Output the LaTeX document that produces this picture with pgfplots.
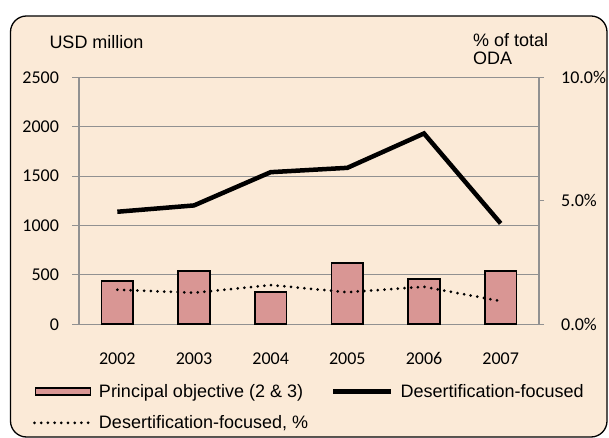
\documentclass[border=0pt]{standalone}
\usepackage{pgfplots}
\pgfplotsset{compat=1.18}
\usepackage{fontspec}
\setmainfont{Liberation Sans}
\newfontfamily\tickfont{Carlito}
\definecolor{bgc}{RGB}{251,234,215}
\definecolor{barc}{RGB}{217,150,148}
\definecolor{gridc}{RGB}{145,145,145}
\newcommand{\txtsize}{\fontsize{18bp}{21bp}\selectfont}
\pgfplotsset{
  barlegend/.style={legend image code/.code={\draw[##1,/tikz/.cd] (2bp,-3.5bp) rectangle (57bp,3.5bp);}},
  linelegend/.style={legend image code/.code={\draw[##1] (0bp,0bp) -- (58bp,0bp);}},
  dotlegend/.style={legend image code/.code={\draw[##1] (1bp,0bp) -- (57bp,0bp);}},
}
\begin{document}
\begin{tikzpicture}
\path[use as bounding box] (0bp,0bp) rectangle (609bp,438bp);
\draw[line width=1.3bp, fill=bgc, rounded corners=16bp] (10.5bp,1bp) rectangle (607bp,422bp);
\node[anchor=base west, inner sep=0pt, font=\txtsize] at (49.3bp,389.7bp) {USD million};
\node[anchor=base west, inner sep=0pt, font=\txtsize] at (473bp,391.7bp) {\% of total};
\node[anchor=base west, inner sep=0pt, font=\txtsize] at (473bp,373.3bp) {ODA};
\begin{axis}[
  at={(79bp,113.7bp)}, anchor=south west,
  scale only axis, width=460bp, height=246.8bp,
  xmin=-0.5, xmax=5.5, ymin=0, ymax=2500,
  axis x line*=bottom, axis y line*=left,
  axis line style={gridc, line width=1.1bp, -},
  ymajorgrids, grid style={gridc, line width=1bp},
  xtick={0,...,5}, xticklabels={2002,2003,2004,2005,2006,2007},
  minor xtick={-0.5,0.5,...,5.5},
  xtick style={draw=none},
  minor x tick style={gridc, line width=1bp},
  minor tick length=6bp,
  ytick={0,500,...,2500}, yticklabels={0,500,1000,1500,2000,2500},
  y tick style={gridc, line width=1bp},
  major tick length=6.6bp,
  tick align=outside,
  ticklabel style={font=\tickfont\txtsize, inner sep=0pt},
  xticklabel style={anchor=north, yshift=-21.7bp},
  yticklabel style={anchor=east, xshift=-13.3bp},
  legend columns=2,
  legend cell align=left,
  legend style={at={(-0.1,-0.2419)}, anchor=north west, draw=none, fill=none,
    inner sep=0pt, outer sep=0pt, font=\txtsize,
    nodes={inner sep=0pt}, column sep=7bp, row sep=17bp,
    /tikz/every even column/.append style={column sep=23bp}},
]
\addplot[ybar, bar width=31.7bp, fill=barc, draw=black, line width=1.6bp, barlegend]
  coordinates {(0,441) (1,540) (2,327) (3,623) (4,459) (5,540)};
\addlegendentry{Principal objective (2 \& 3)}
\addplot[black, line width=4.5bp, miter limit=4, linelegend]
  coordinates {(0,1140) (1,1204) (2,1541) (3,1585) (4,1933) (5,1022)};
\addlegendentry{Desertification-focused}
\addlegendimage{black, line width=3bp, dash pattern=on 0bp off 6.7bp, line cap=round, dotlegend}
\addlegendentry{Desertification-focused, \%}
\end{axis}
\begin{axis}[
  at={(79bp,113.7bp)}, anchor=south west,
  scale only axis, width=460bp, height=246.8bp,
  xmin=-0.5, xmax=5.5, ymin=0, ymax=10,
  axis x line=none, axis y line*=right,
  axis line style={gridc, line width=1.1bp, -},
  ytick={0,5,10}, yticklabels={0.0\%,5.0\%,10.0\%},
  y tick style={gridc, line width=1bp},
  major tick length=5bp, tick align=outside,
  ticklabel style={font=\tickfont\txtsize, inner sep=0pt},
  yticklabel style={anchor=west, xshift=17bp},
]
\addplot[black, line width=3bp, dash pattern=on 0bp off 6.7bp, line cap=round]
  coordinates {(0,1.40) (1,1.28) (2,1.59) (3,1.30) (4,1.52) (5,0.94)};
\end{axis}
\end{tikzpicture}
\end{document}
